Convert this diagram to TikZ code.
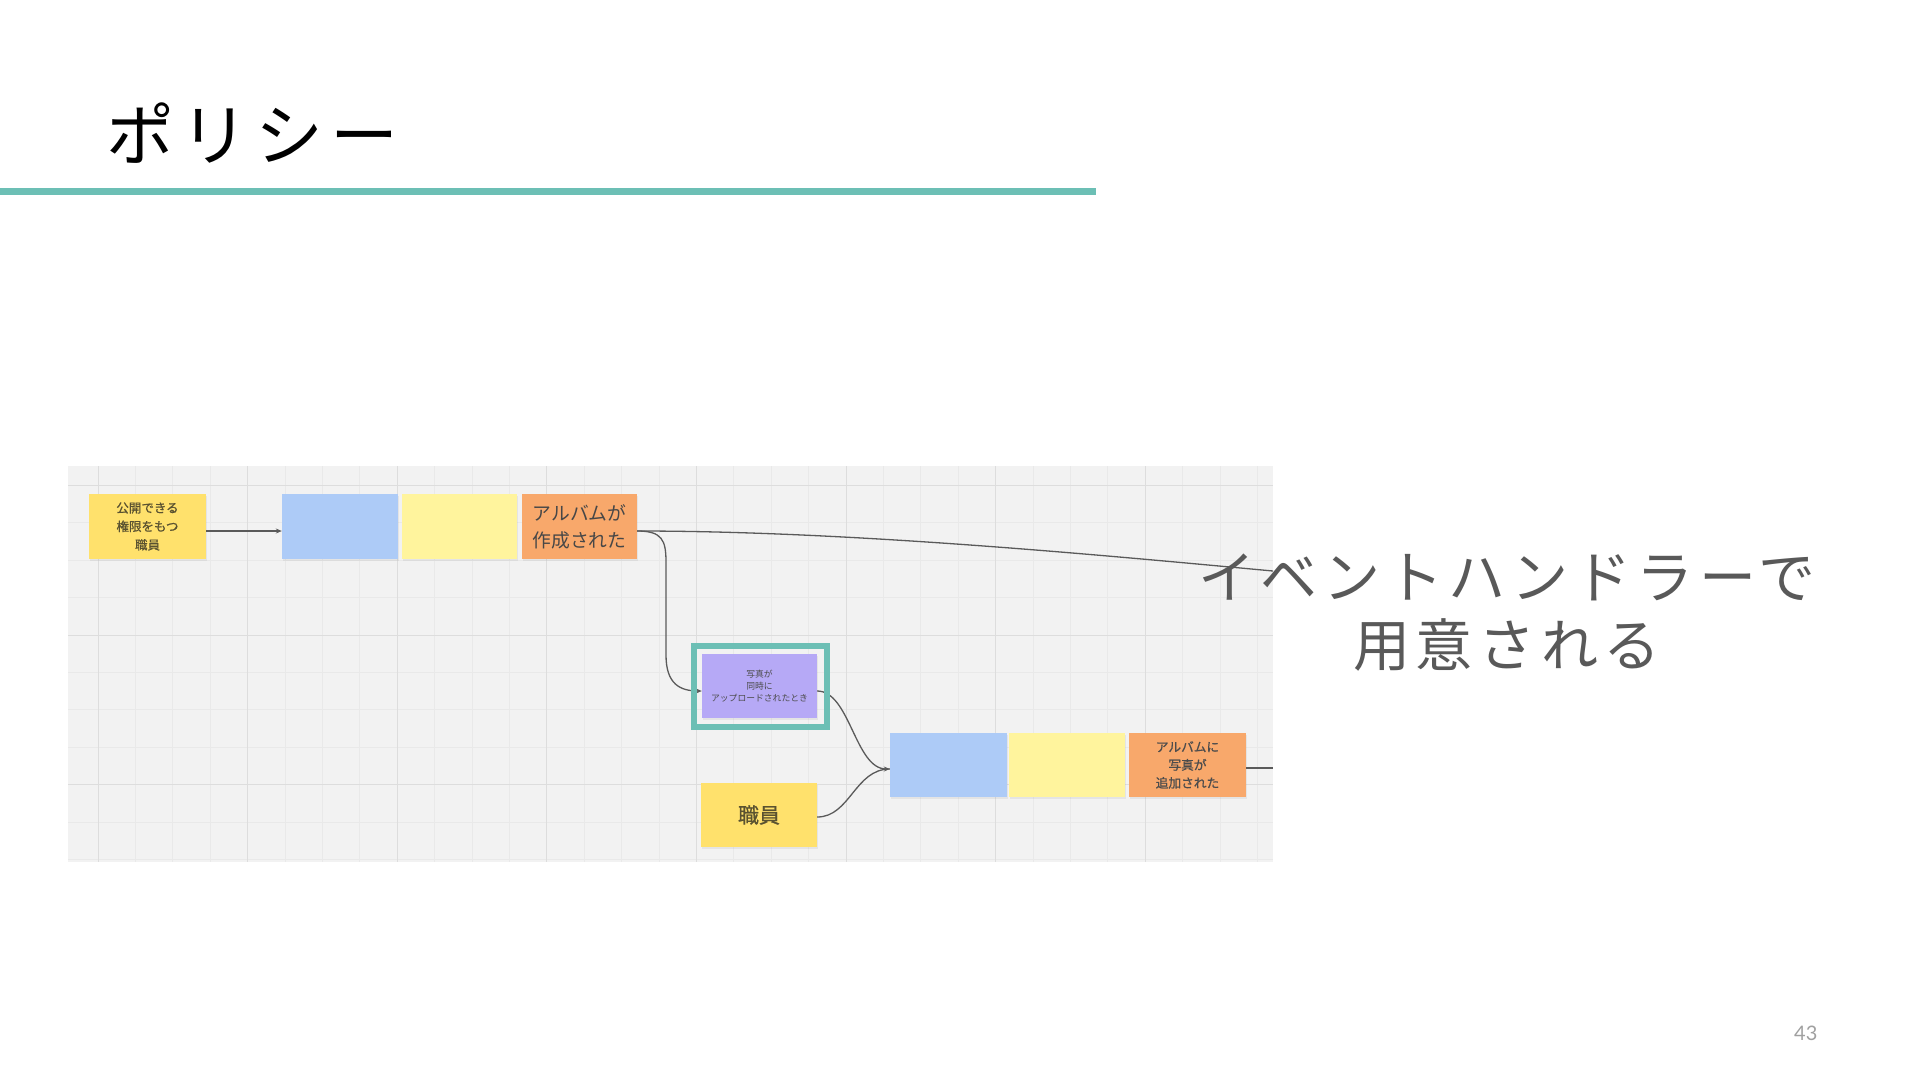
\documentclass[tikz,border=0pt]{standalone}
\usepackage{fontspec}
\usetikzlibrary{arrows.meta,shadows}
\newfontfamily\jp{Noto Sans CJK JP}
\newfontfamily\jpmed[FakeBold=0.9]{Noto Sans CJK JP}
\newfontfamily\jpwide[LetterSpace=10]{Noto Sans CJK JP}
\newfontfamily\numfont{Lato}
\definecolor{panelbg}{HTML}{F2F2F2}
\definecolor{gridminor}{HTML}{E9E9E9}
\definecolor{gridmajor}{HTML}{DDDDDD}
\definecolor{stickyyellow}{HTML}{FFE16C}
\definecolor{stickyblue}{HTML}{ADCBF7}
\definecolor{stickylight}{HTML}{FFF49D}
\definecolor{stickyorange}{HTML}{F8A86B}
\definecolor{stickypurple}{HTML}{B6A9F6}
\definecolor{tealrule}{HTML}{6CBFB5}
\definecolor{linegray}{HTML}{5A5A5A}
\definecolor{bigtext}{HTML}{595959}
\definecolor{pagegray}{HTML}{A0A0A0}
\definecolor{olivetext}{HTML}{5A5230}
\tikzset{
  sticky/.style={rectangle, inner sep=0pt, minimum width=116pt, minimum height=65pt, align=center,
    drop shadow={opacity=0.12, shadow xshift=0.5pt, shadow yshift=-2pt}},
  conn/.style={draw=linegray, line width=1.3pt},
  tip/.style={-{Stealth[length=6pt,width=5pt]}}
}
\begin{document}
\begin{tikzpicture}[x=1pt,y=-1pt]
% page
\fill[white] (0,0) rectangle (1920,1080);
\useasboundingbox (0,0) rectangle (1920,1080);

% title and rule
\node[anchor=base west, inner sep=0pt, font={\jpwide\fontsize{68}{68}\selectfont}] (title) at (106,160) {ポリシー};
\draw[tealrule, line width=7pt] (0,191) -- (1096,191);

% panel with grid
\begin{scope}
\clip (68,466) rectangle (1273,862);
\fill[panelbg] (68,466) rectangle (1273,862);
\foreach \i in {-1,...,31} { \draw[gridminor, line width=0.9pt] ({98+37.4*\i},466) -- ++(0,396); }
\foreach \j in {-1,...,10} { \draw[gridminor, line width=0.9pt] (68,{485.5+37.4*\j}) -- ++(1205,0); }
\foreach \k in {0,...,7} { \draw[gridmajor, line width=1pt] ({98+149.6*\k},466) -- ++(0,396); }
\foreach \k in {0,1,2} { \draw[gridmajor, line width=1pt] (68,{485.5+149.6*\k}) -- ++(1205,0); }
\end{scope}

% stickies row 1
\node[sticky, fill=stickyyellow, minimum width=117pt, text=olivetext,
  font={\jpmed\fontsize{12.5}{18.5}\selectfont}] (s1) at (147.5,526.5) {公開できる\\権限をもつ\\職員};
\node[sticky, fill=stickyblue] (b1) at (340,526.5) {};
\node[sticky, fill=stickylight, minimum width=115pt] (y1) at (459.5,526.5) {};
\node[sticky, fill=stickyorange, minimum width=115pt, text=black!72,
  font={\jp\fontsize{18.8}{27}\selectfont}] (o1) at (579.5,526.5) {アルバムが\\作成された};

% row 2
\node[sticky, fill=stickypurple, minimum width=115pt, minimum height=64pt, text=black!70,
  font={\jp\fontsize{8.8}{12}\selectfont}] (p) at (759.5,686) {写真が\\同時に\\アップロードされたとき};
\node[sticky, fill=stickyyellow, minimum height=64pt, text=olivetext,
  font={\jpmed\fontsize{21}{25}\selectfont}] (s2) at (759,815) {職員};
\node[sticky, fill=stickyblue, minimum width=117pt, minimum height=64pt] (b2) at (948.5,765) {};
\node[sticky, fill=stickylight, minimum height=64pt] (y2) at (1067,765) {};
\node[sticky, fill=stickyorange, minimum width=117pt, minimum height=64pt, text=black!70,
  font={\jpmed\fontsize{12.7}{18}\selectfont}] (o2) at (1187.5,765) {アルバムに\\写真が\\追加された};

% free ends at the panel edge
\coordinate (e1) at (1273,571);
\coordinate (e2) at (1273,768);

% connectors
\draw[conn, tip] ([yshift=-4.5pt]s1.east) -- ([yshift=-4.5pt]b1.west);
\draw[conn] ([yshift=-4.5pt]o1.east) .. controls (850,531) and (1100,555) .. (e1);
\draw[conn, tip] ([yshift=-4.5pt]o1.east) .. controls (662,531) and (666,540) .. (666,562)
  -- (666,655) .. controls (666,684) and (680,691) .. ([yshift=-5pt]p.west);
\draw[conn, tip] ([yshift=-5pt]p.east) .. controls (850,691) and (855,769) .. ([yshift=-4pt]b2.west);
\draw[conn] ([yshift=-2pt]s2.east) .. controls (850,817) and (855,769) .. ([yshift=-4pt]b2.west);
\draw[conn] ([yshift=-3pt]o2.east) -- (e2);

% highlight frame
\node[draw=tealrule, line width=6pt, minimum width=133pt, minimum height=81pt, inner sep=0pt] (hl) at (760.5,686.5) {};

% message
\node[align=center, text=bigtext, font={\jpwide\fontsize{57}{68}\selectfont}] (msg) at (1507,613) {イベントハンドラーで\\用意される};

% page number
\node[anchor=base west, inner sep=0pt, text=pagegray, font={\numfont\fontsize{20}{20}\selectfont}] (pg) at (1794,1040) {43};
\end{tikzpicture}
\end{document}
